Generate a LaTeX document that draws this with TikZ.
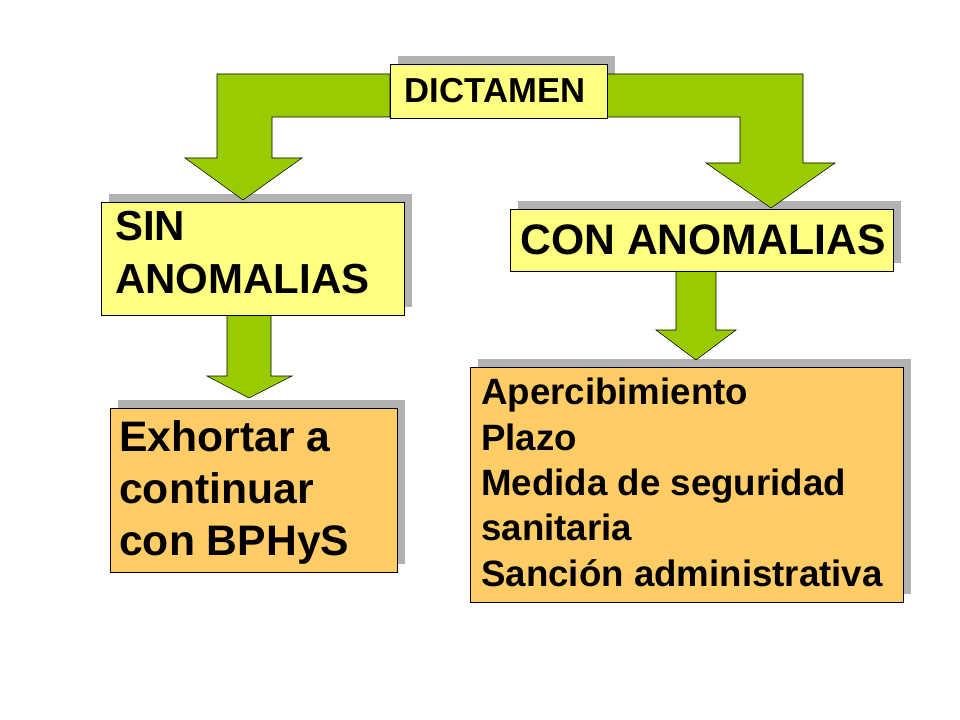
\documentclass[tikz,border=0pt]{standalone}
\usepackage{fontspec}
\setmainfont{Liberation Sans}
\definecolor{boxyellow}{RGB}{255,255,128}
\definecolor{boxorange}{RGB}{255,204,102}
\definecolor{arrowgreen}{RGB}{153,204,0}
\begin{document}
\begin{tikzpicture}[x=0.75pt,y=-0.75pt,
    box/.style={font=\bfseries, align=left, inner sep=0pt, anchor=center},
    blockarrow/.style={draw, thin, fill=arrowgreen, line join=miter}]

    \useasboundingbox (0,0) rectangle (960,720);

    % Shadows
    \fill[black!30] (398,56) rectangle (615,110);
    \fill[black!30] (109,194) rectangle (412,307);
    \fill[black!30] (518,201) rectangle (901,263);
    \fill[black!30] (118,400) rectangle (405,564);
    \fill[black!30] (478,359) rectangle (911,594);

    % Arrows
    \draw[blockarrow] (390,74) -- (217,74) -- (217,158) -- (185,158) -- (243,200)
      -- (302,158) -- (272,158) -- (272,117) -- (390,117) -- cycle;
    \draw[blockarrow] (607,74) -- (803,74) -- (803,163) -- (835,163) -- (771,208)
      -- (706,163) -- (740,163) -- (740,117) -- (607,117) -- cycle;
    \draw[blockarrow] (227,315) -- (271,315) -- (271,376) -- (292,376) -- (249,398)
      -- (207,376) -- (227,376) -- cycle;
    \draw[blockarrow] (676,271) -- (716,271) -- (716,330) -- (736,330) -- (696,360)
      -- (656,330) -- (676,330) -- cycle;

    % Boxes
    \draw[fill=boxyellow] (390,64) rectangle (607,118);
    \node[box, font=\bfseries\fontsize{26}{30}\selectfont] (dictamen) at (495,91) {DICTAMEN};

    \draw[fill=boxyellow] (101,202) rectangle (404,315);
    \node[box, font=\bfseries\fontsize{31.5}{40}\selectfont, anchor=north west] (sin)
      at (115,211) {SIN\\ANOMALIAS};

    \draw[fill=boxyellow] (510,209) rectangle (893,271);
    \node[box, font=\bfseries\fontsize{32}{38}\selectfont] (con) at (703,240) {CON ANOMALIAS};

    \draw[fill=boxorange] (110,408) rectangle (397,572);
    \node[box, font=\bfseries\fontsize{32}{39}\selectfont, anchor=north west] (exhortar)
      at (119,420) {Exhortar a\\continuar\\con BPHyS};

    \draw[fill=boxorange] (470,367) rectangle (903,602);
    \node[box, font=\bfseries\fontsize{27.5}{34}\selectfont, anchor=north west] (medidas)
      at (481,378) {Apercibimiento\\Plazo\\Medida de seguridad\\sanitaria\\Sanción administrativa};

\end{tikzpicture}
\end{document}
